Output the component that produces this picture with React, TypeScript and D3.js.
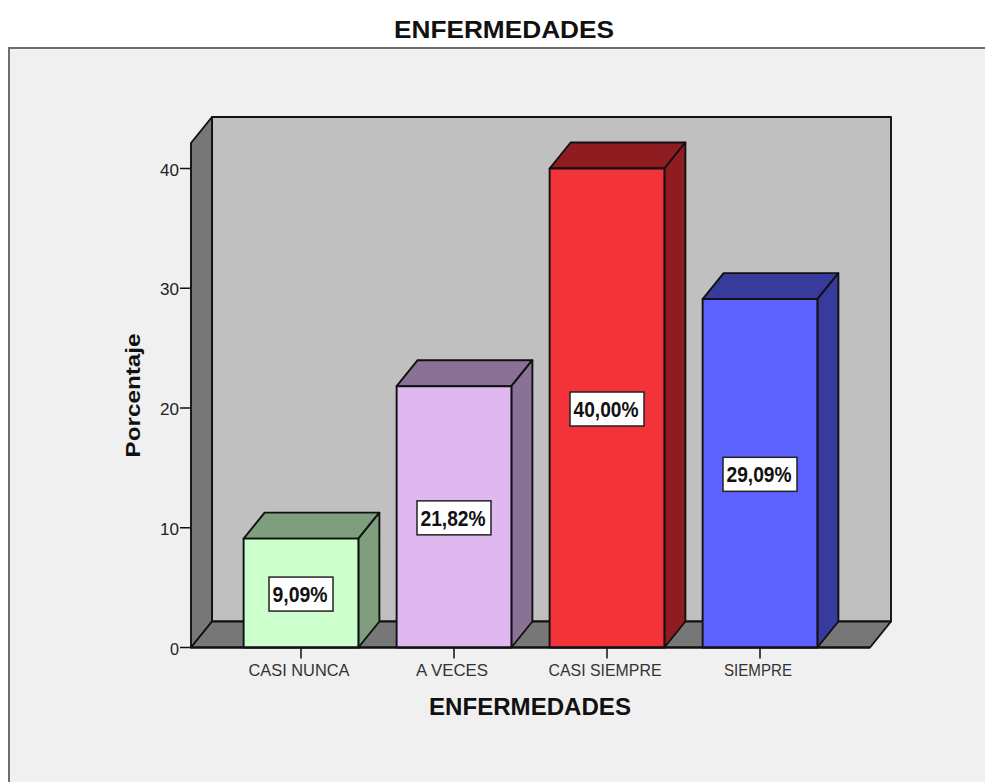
import React from "react";
import * as d3 from "d3";

const categories = ["CASI NUNCA", "A VECES", "CASI SIEMPRE", "SIEMPRE"];
const values = [9.09, 21.82, 40.0, 29.09];
const valueLabels = ["9,09%", "21,82%", "40,00%", "29,09%"];
const frontColors = ["#ccffcc", "#dfb8f0", "#f23339", "#5c61ff"];
const sideColors = ["#7e9e7e", "#8a7297", "#8f1c20", "#383a9c"];
const yTicks = [0, 10, 20, 30, 40];
const categoryLabelWidths = [101, 72, 113, 68];

const FONT = "'Liberation Sans', Arial, sans-serif";
const DX = 21;
const DY = 26;
const INK = "#111";

export default function App() {
  const y = d3.scaleLinear().domain([0, 40]).range([647.5, 168.5]);
  const x = d3.scaleBand<string>().domain(categories).range([224.5, 836.5]).paddingInner(0.25).paddingOuter(0.125);
  const floorLeft = 191;
  const floorRight = 870;
  const wallTop = 143;
  const y0 = y(0);
  const poly = (p: [number, number][]) => (d3.line()(p) as string) + "Z";

  return (
    <svg width={985} height={782} style={{ position: "fixed", left: 0, top: 0 }} fontFamily={FONT}>
      <rect width={985} height={782} fill="#ffffff" />
      <rect x={9} y={48} width={990} height={750} fill="#f0f0f0" stroke="#6e6e6e" strokeWidth={2} />
      <text x={504} y={38} textAnchor="middle" fontSize={24} fontWeight="bold" fill="#111" textLength={220} lengthAdjust="spacingAndGlyphs">ENFERMEDADES</text>

      <g stroke={INK} strokeWidth={1.9} strokeLinejoin="round">
        <rect x={floorLeft + DX} y={wallTop - DY} width={floorRight - floorLeft} height={y0 - wallTop} fill="#c0c0c0" />
        <path d={poly([[floorLeft, wallTop], [floorLeft + DX, wallTop - DY], [floorLeft + DX, y0 - DY], [floorLeft, y0]])} fill="#777777" />
        <path d={poly([[floorLeft, y0], [floorLeft + DX, y0 - DY], [floorRight + DX, y0 - DY], [floorRight, y0]])} fill="#777777" />
      </g>

      {yTicks.map((t) => (
        <g key={t}>
          <line x1={floorLeft - 11} x2={floorLeft} y1={y(t)} y2={y(t)} stroke={INK} strokeWidth={1.5} />
          <text x={floorLeft - 12} y={y(t) + 7} textAnchor="end" fontSize={17} fill="#222" textLength={t === 0 ? 9 : 19} lengthAdjust="spacingAndGlyphs">{t}</text>
        </g>
      ))}

      {categories.map((c, i) => {
        const l = x(c) as number;
        const r = l + x.bandwidth();
        const top = y(values[i]);
        const cx = l + x.bandwidth() / 2;
        return (
          <g key={c}>
            <g stroke={INK} strokeWidth={1.9} strokeLinejoin="round">
              <path d={poly([[l, top], [l + DX, top - DY], [r + DX, top - DY], [r, top]])} fill={sideColors[i]} />
              <path d={poly([[r, top], [r + DX, top - DY], [r + DX, y0 - DY], [r, y0]])} fill={sideColors[i]} />
              <rect x={l} y={top} width={r - l} height={y0 - top} fill={frontColors[i]} />
            </g>
            <line x1={cx} x2={cx} y1={y0} y2={y0 + 11} stroke={INK} strokeWidth={1.5} />
            <text x={cx - 2} y={675.5} textAnchor="middle" fontSize={17} fill="#333" textLength={categoryLabelWidths[i]} lengthAdjust="spacingAndGlyphs">{c}</text>
          </g>
        );
      })}

      <line x1={floorLeft} x2={floorRight} y1={y0} y2={y0} stroke={INK} strokeWidth={1.9} />

      {categories.map((c, i) => {
        const cx = (x(c) as number) + x.bandwidth() / 2;
        const mid = (y(values[i]) + y0) / 2 + 1;
        const w = i === 0 ? 64 : 74;
        return (
          <g key={c + "-label"}>
            <rect x={cx - w / 2} y={mid - 17} width={w} height={34} fill="#ffffff" stroke="#222" strokeWidth={1.5} />
            <text x={cx - 1} y={mid + 8} textAnchor="middle" fontSize={22} fontWeight="bold" fill="#111" textLength={w - 9} lengthAdjust="spacingAndGlyphs">{valueLabels[i]}</text>
          </g>
        );
      })}

      <text transform="translate(140,395.5) rotate(-90)" textAnchor="middle" fontSize={21} fontWeight="bold" fill="#111" textLength={124} lengthAdjust="spacingAndGlyphs">Porcentaje</text>
      <text x={530} y={714.5} textAnchor="middle" fontSize={24} fontWeight="bold" fill="#111" textLength={202} lengthAdjust="spacingAndGlyphs">ENFERMEDADES</text>
    </svg>
  );
}
